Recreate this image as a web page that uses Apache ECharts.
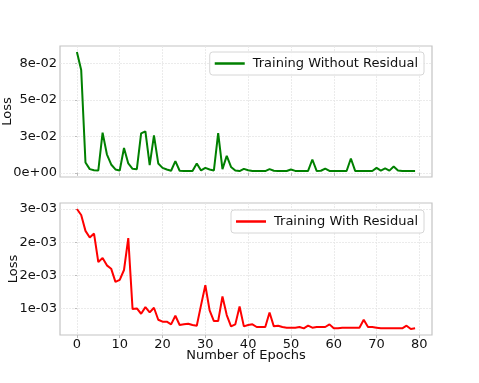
<!DOCTYPE html>
<html>
<head>
<meta charset="utf-8">
<script src="https://cdn.jsdelivr.net/npm/echarts@6/dist/echarts.min.js"></script>
<style>
  html, body { margin: 0; padding: 0; background: #fff; }
  #chart { width: 479px; height: 383px; }
</style>
</head>
<body>
<div id="chart"></div>
<script>
// epochs 0..79
const epochs = Array.from({ length: 80 }, (_, i) => i);

// loss without residual
const lossNoRes = [
  0.0828, 0.0705, 0.0071, 0.0025, 0.0018, 0.0016, 0.0275, 0.0127, 0.0057, 0.0023,
  0.0016, 0.0170, 0.0064, 0.0027, 0.0025, 0.0270, 0.0284, 0.0052, 0.0256, 0.0064,
  0.0034, 0.0023, 0.0014, 0.0080, 0.0014, 0.0012, 0.0012, 0.0012, 0.0064, 0.0016,
  0.0034, 0.0023, 0.0016, 0.0272, 0.0025, 0.0116, 0.0040, 0.0016, 0.0012, 0.0027,
  0.0018, 0.0012, 0.0012, 0.0012, 0.0012, 0.0025, 0.0014, 0.0012, 0.0012, 0.0012,
  0.0023, 0.0013, 0.0012, 0.0012, 0.0013, 0.0091, 0.0013, 0.0014, 0.0029, 0.0013,
  0.0012, 0.0012, 0.0012, 0.0012, 0.0098, 0.0013, 0.0012, 0.0012, 0.0012, 0.0012,
  0.0034, 0.0015, 0.0030, 0.0015, 0.0043, 0.0016, 0.0012, 0.0012, 0.0012, 0.0012
];

// loss with residual (bottom panel)
const lossRes = [
  0.00250, 0.00241, 0.00217, 0.00207, 0.00213, 0.00170, 0.00176, 0.00165, 0.00160, 0.00140,
  0.00143, 0.00158, 0.00206, 0.00099, 0.00100, 0.00092, 0.00102, 0.00094, 0.00101, 0.00083,
  0.00080, 0.00080, 0.00076, 0.00089, 0.00075, 0.00076, 0.00077, 0.00075, 0.00074, 0.00105,
  0.00135, 0.00097, 0.00081, 0.00081, 0.00118, 0.00090, 0.00073, 0.00076, 0.00103, 0.00073,
  0.00075, 0.00076, 0.00072, 0.00072, 0.00072, 0.00094, 0.00073, 0.00074, 0.00072, 0.00071,
  0.00071, 0.00071, 0.00072, 0.00070, 0.00074, 0.00071, 0.00072, 0.00072, 0.00072, 0.00076,
  0.00070, 0.00070, 0.00071, 0.00071, 0.00071, 0.00071, 0.00071, 0.00083, 0.00072, 0.00072,
  0.00071, 0.00070, 0.00070, 0.00070, 0.00070, 0.00070, 0.00070, 0.00074, 0.00069, 0.00070
];

// tick values and their printed labels
const xTicks = [0, 10, 20, 30, 40, 50, 60, 70, 80];
const topTicks = [0, 0.025, 0.05, 0.075];
const topTickLabels = ['0e+00', '3e-02', '5e-02', '8e-02'];
const botTicks = [0.001, 0.0015, 0.002, 0.0025];
const botTickLabels = ['1e-03', '2e-03', '2e-03', '3e-03'];

const FONT = 'DejaVu Sans';
const TXT = '#111';

// matplotlib-like 5% margins
const pad = (arr, side) => {
  const lo = Math.min(...arr), hi = Math.max(...arr);
  const m = (hi - lo) * 0.05;
  return side === 'min' ? lo - m : hi + m;
};
const pickLabel = (ticks, labels) => (v) => {
  let best = 0;
  ticks.forEach((t, i) => { if (Math.abs(t - v) < Math.abs(ticks[best] - v)) best = i; });
  return labels[best];
};

const chart = echarts.init(document.getElementById('chart'), null, { renderer: 'canvas' });

const gridCommon = {
  left: 60, right: 47,
  outerBoundsMode: 'none',
  containLabel: false,
  show: true, borderColor: '#c4c4c4', borderWidth: 1.2, backgroundColor: '#fff'
};
const splitLine = { show: true, lineStyle: { color: '#e6e6e6', width: 0.8, type: [2, 1] } };

const xAxisBase = {
  type: 'value',
  min: -3.95,
  max: 82.95,
  axisLine: { show: false },
  axisTick: { show: true, length: 3, customValues: xTicks, lineStyle: { color: '#bbb' } },
  splitLine: splitLine,
};

const legendBase = {
  right: 55,
  orient: 'horizontal',
  icon: 'rect',
  itemWidth: 30,
  itemHeight: 2.5,
  padding: [4, 6, 4, 5],
  backgroundColor: 'rgba(255,255,255,0.85)',
  borderColor: '#d6d6d6',
  borderWidth: 1,
  borderRadius: 3,
  textStyle: { fontFamily: FONT, fontSize: 13, color: TXT, lineHeight: 15, padding: [0, 0, 0, 3] },
};

const yName = (gap) => ({
  name: 'Loss',
  nameLocation: 'middle',
  nameGap: gap,
  nameMoveOverlap: false,
  nameTextStyle: { fontFamily: FONT, fontSize: 13, color: TXT },
});

const option = {
  animation: false,
  backgroundColor: '#fff',
  grid: [
    Object.assign({ top: 46, height: 131 }, gridCommon),
    Object.assign({ top: 203, height: 132 }, gridCommon),
  ],
  xAxis: [
    Object.assign({ gridIndex: 0, axisLabel: { show: false, customValues: xTicks } }, xAxisBase),
    Object.assign({
      gridIndex: 1,
      name: 'Number of Epochs',
      nameLocation: 'middle',
      nameGap: 14,
      nameMoveOverlap: false,
      nameTextStyle: { fontFamily: FONT, fontSize: 13, color: TXT },
      axisLabel: { show: true, customValues: xTicks, margin: 3, fontFamily: FONT, fontSize: 13, color: TXT },
    }, xAxisBase),
  ],
  yAxis: [
    Object.assign({
      gridIndex: 0,
      type: 'value',
      min: pad(lossNoRes, 'min'),
      max: pad(lossNoRes, 'max'),
      axisLine: { show: false },
      axisTick: { show: true, length: 2, customValues: topTicks, lineStyle: { color: '#bbb' } },
      axisLabel: {
        customValues: topTicks, margin: 3,
        fontFamily: FONT, fontSize: 13, color: TXT,
        formatter: pickLabel(topTicks, topTickLabels),
      },
      splitLine: splitLine,
    }, yName(46)),
    Object.assign({
      gridIndex: 1,
      type: 'value',
      min: pad(lossRes, 'min'),
      max: pad(lossRes, 'max'),
      axisLine: { show: false },
      axisTick: { show: true, length: 2, customValues: botTicks, lineStyle: { color: '#bbb' } },
      axisLabel: {
        customValues: botTicks, margin: 3,
        fontFamily: FONT, fontSize: 13, color: TXT,
        formatter: pickLabel(botTicks, botTickLabels),
      },
      splitLine: splitLine,
    }, yName(40)),
  ],
  legend: [
    Object.assign({ top: 52, data: ['Training Without Residual'] }, legendBase),
    Object.assign({ top: 210, data: ['Training With Residual'] }, legendBase),
  ],
  series: [
    {
      name: 'Training Without Residual',
      type: 'line',
      xAxisIndex: 0,
      yAxisIndex: 0,
      data: epochs.map((e, i) => [e, lossNoRes[i]]),
      symbol: 'none',
      lineStyle: { color: '#008000', width: 2 },
      itemStyle: { color: '#008000' },
    },
    {
      name: 'Training With Residual',
      type: 'line',
      xAxisIndex: 1,
      yAxisIndex: 1,
      data: epochs.map((e, i) => [e, lossRes[i]]),
      symbol: 'none',
      lineStyle: { color: '#ff0000', width: 2 },
      itemStyle: { color: '#ff0000' },
    },
  ],
};

chart.setOption(option);
</script>
</body>
</html>
